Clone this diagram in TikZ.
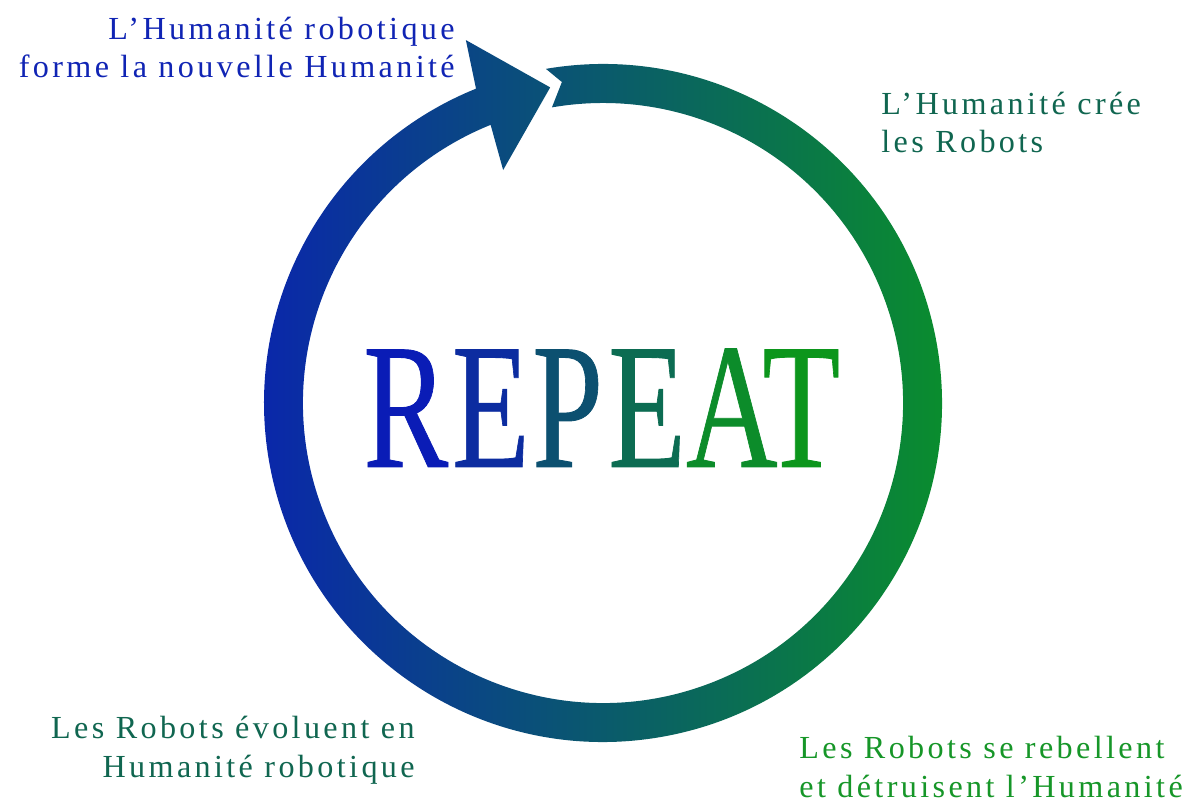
\documentclass[tikz,border=0pt]{standalone}
\usepackage{fontspec}
\usepackage{graphicx}
\setmainfont{Liberation Serif}
\newfontfamily\lblfont[LetterSpace=10.5]{Liberation Serif}
\newfontfamily\bigfont[FakeBold=0.5]{Liberation Serif}
\definecolor{ringL}{RGB}{10,28,184}
\definecolor{ringR}{RGB}{10,152,32}
\definecolor{txtBlue}{RGB}{16,36,180}
\definecolor{txtTeal}{RGB}{16,102,80}
\definecolor{txtGreen}{RGB}{22,150,40}
\definecolor{cR}{RGB}{10,28,182}
\definecolor{cE}{RGB}{12,44,160}
\definecolor{cP}{RGB}{12,80,112}
\definecolor{cEE}{RGB}{12,108,82}
\definecolor{cA}{RGB}{12,140,42}
\definecolor{cT}{RGB}{12,150,28}
\begin{document}
\begin{tikzpicture}[x=0.02cm,y=0.02cm,
  lbl/.style={font=\lblfont\fontsize{18.3}{22.1}\selectfont, inner sep=0pt},
  bigword/.style={inner sep=0pt, font=\bigfont\fontsize{102}{110}\selectfont}]
\useasboundingbox (0,0) rectangle (1186,805);
\coordinate (C) at (603,402);
% ring with arrowhead
\begin{scope}
  \clip[shift={(603,402)}]
    (99.7:339) arc[start angle=99.7, end angle=-248, radius=339]
    -- (110.7:388) -- (99.5:320) -- (113.2:253.5) -- (112:300)
    arc[start angle=-248, end angle=99.8, radius=300]
    -- (97.3:323.6) -- cycle;
  \shade[rotate around={-12:(C)}, left color=ringL, right color=ringR]
    (263,2) rectangle (943,802);
\end{scope}
% labels
\node[lbl, text=txtBlue, align=right, anchor=base east] (tl) at (455,727)
  {L’Humanité robotique\\forme la nouvelle Humanité};
\node[lbl, text=txtTeal, align=left, anchor=base west] (tr) at (881,652)
  {L’Humanité crée\\les Robots};
\node[lbl, text=txtTeal, align=right, anchor=base east] (bl) at (415,28)
  {Les Robots évoluent en\\Humanité robotique};
\node[lbl, text=txtGreen, align=left, anchor=base west] (br) at (799,8)
  {Les Robots se rebellent\\et détruisent l’Humanité};
% central word
\node[bigword, anchor=base west] (rep) at (363,338)
  {\scalebox{0.71}[1]{\textcolor{cR}{R}\kern0.03em\textcolor{cE}{E}\kern0.02em\textcolor{cP}{P}\kern0.04em\textcolor{cEE}{E}\kern0.0em\textcolor{cA}{A}\kern-0.12em\textcolor{cT}{T}}};
\end{tikzpicture}
\end{document}
